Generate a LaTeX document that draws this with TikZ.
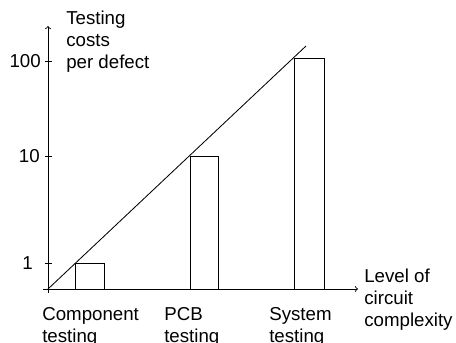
\documentclass[tikz,border=0pt]{standalone}
\usepackage{fontspec}
\setmainfont{Liberation Sans}
\begin{document}
\begin{tikzpicture}[lbl/.style={align=left,inner sep=0pt,font=\fontsize{13.3}{15.6}\selectfont},
  axis/.style={->,line width=0.6pt}, bar/.style={line width=0.6pt}]
\useasboundingbox (-1.2,-1.35) rectangle (10.2,7.225);
% axes
\coordinate (O) at (0,0);
\coordinate (Xs) at (-0.125,0);
\coordinate (Xe) at (7.75,0);
\coordinate (Ys) at (0,-0.1);
\coordinate (Ye) at (0,6.575);
\draw[axis] (Xs) -- (Xe);
\draw[axis] (Ys) -- (Ye);
% ticks
\foreach \y/\name in {0.65/T1,3.325/T10,5.7/T100}
  \draw[bar] (-0.075,\y) coordinate (\name) -- (0.1,\y);
\node[lbl,anchor=east] (L1) at (-0.375,0.65) {1};
\node[lbl,anchor=east] (L10) at (-0.2,3.325) {10};
\node[lbl,anchor=east] (L100) at (-0.175,5.7) {100};
% bars
\draw[bar] (0.675,0) rectangle (1.4,0.65);
\draw[bar] (3.55,0) rectangle (4.25,3.325);
\draw[bar] (6.15,0) rectangle (6.9,5.775);
% trend
\coordinate (E) at (6.45,6.075);
\draw[bar] (O) -- (E);
% labels
\node[lbl,anchor=north west] (Ytitle) at (0.45,6.95) {Testing\\costs\\per defect};
\node[lbl,anchor=north west] (Xtitle) at (7.9,0.5) {Level of\\circuit\\complexity};
\node[lbl,anchor=north west] (Comp) at (-0.15,-0.45) {Component\\testing};
\node[lbl,anchor=north west] (PCB) at (2.9,-0.45) {PCB\\testing};
\node[lbl,anchor=north west] (Sys) at (5.525,-0.45) {System\\testing};
\end{tikzpicture}
\end{document}
